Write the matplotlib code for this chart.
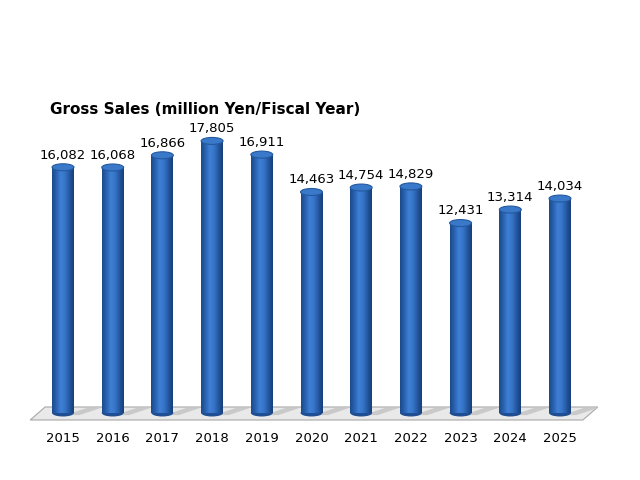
import numpy as np
import matplotlib
matplotlib.use('Agg')
import matplotlib.pyplot as plt
from matplotlib.patches import Ellipse, Polygon, Rectangle
from matplotlib.colors import LinearSegmentedColormap

years = ['2015', '2016', '2017', '2018', '2019', '2020',
         '2021', '2022', '2023', '2024', '2025']
sales = [16082, 16068, 16866, 17805, 16911, 14463,
         14754, 14829, 12431, 13314, 14034]
title = 'Gross Sales (million Yen/Fiscal Year)'

# pixel layout (figure is 640x480 at 100 dpi)
px_per_unit = 0.01528      # vertical pixels per million yen
x0_px, dx_px = 63, 49.7    # first bar centre, bar spacing
base_px = 67               # y of value 0, from bottom
ylo, yhi = -2000, 20000
xlo, xhi = -1.0, 11.0

fig = plt.figure(figsize=(6.4, 4.8), dpi=100)
left = (x0_px + xlo * dx_px) / 640
width = (xhi - xlo) * dx_px / 640
bottom = (base_px + ylo * px_per_unit) / 480
height = (yhi - ylo) * px_per_unit / 480
ax = fig.add_axes([left, bottom, width, height])
ax.set_xlim(xlo, xhi)
ax.set_ylim(ylo, yhi)
ax.axis('off')

n = len(years)
bw = 0.44                         # bar width in data units
eh = 7 / px_per_unit              # ellipse height in data units

# floor (a thin slanted slab)
back = 6 / px_per_unit
front = -7 / px_per_unit
floor = Polygon([(-0.66, front), (-0.36, back), (n - 0.24, back), (n - 0.54, front)],
                closed=True, facecolor='#e9e9e9', edgecolor='#a8a8a8', lw=0.8, zorder=1)
ax.add_patch(floor)

body = LinearSegmentedColormap.from_list(
    'cyl', ['#1b4a8a', '#2a62b0', '#3f80d6', '#3674c6', '#2458a2', '#173f78'])
grad = np.linspace(0, 1, 64).reshape(1, -1)

for i, v in enumerate(sales):
    # shadow on floor
    sh = Polygon([(i + 0.05, front * 0.3), (i + 0.5, back * 0.9), (i + 0.78, back * 0.9), (i + 0.33, front * 0.3)],
                 closed=True, facecolor='#c9c9c9', edgecolor='none', zorder=1.5)
    ax.add_patch(sh)
    im = ax.imshow(grad, cmap=body, aspect='auto', extent=(i - bw / 2, i + bw / 2, 0, v),
                   zorder=2, interpolation='bicubic')
    clip = Rectangle((i - bw / 2, 0), bw, v, transform=ax.transData)
    im.set_clip_path(clip)
    ax.add_patch(Ellipse((i, 0), bw, eh, facecolor='#1f4f92', edgecolor='none', zorder=1.8))
    ax.add_patch(Ellipse((i, v), bw, eh, facecolor='#3a78c9', edgecolor='#24599f', lw=0.8, zorder=3))
    ax.annotate(f'{v:,}', (i, v), xytext=(0, 4), textcoords='offset points',
                ha='center', va='bottom', fontsize=9.5, color='black')
    ax.text(i, -1650, years[i], ha='center', va='center', fontsize=9.5, color='black')

fig.text(50 / 640, 1 - 110 / 480, title, ha='left', va='center',
         fontsize=11, fontweight='bold', color='black')

fig.savefig('out.png', dpi=100)
